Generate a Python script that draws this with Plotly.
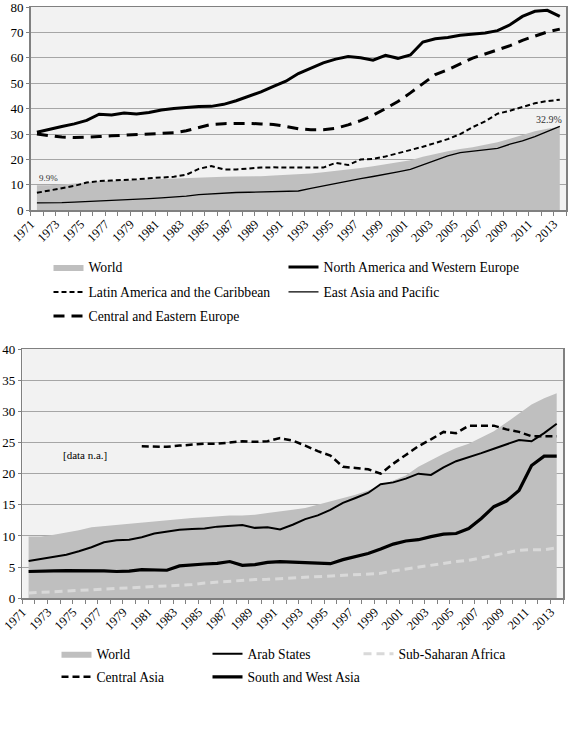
import plotly.graph_objects as go

years = list(range(1971, 2014))

# ---- top panel ----
world = [9.9, 9.9, 10.2, 10.5, 10.9, 11.4, 11.6, 11.8, 12.0, 12.1,
         12.3, 12.5, 12.7, 12.9, 13.0, 13.2, 13.3, 13.3, 13.4, 13.7,
         13.9, 14.2, 14.5, 15.0, 15.5, 16.1, 16.6, 17.3, 18.1, 18.8,
         19.7, 21.1, 22.2, 23.2, 24.1, 24.8, 25.8, 26.8, 28.2, 29.6,
         31.1, 32.1, 32.9]
na_we = [30.7, 32.0, 33.0, 34.0, 35.4, 37.8, 37.5, 38.3, 37.9, 38.5,
         39.5, 40.1, 40.5, 40.8, 40.9, 41.7, 43.1, 44.9, 46.6, 48.8,
         50.8, 53.8, 56.0, 58.0, 59.5, 60.5, 60.0, 59.1, 61.0, 59.8,
         61.1, 66.2, 67.5, 68.0, 68.9, 69.4, 69.8, 70.7, 73.0, 76.3,
         78.3, 78.7, 76.3]
latam = [6.9, 7.7, 8.6, 9.6, 10.9, 11.5, 11.7, 11.9, 12.2, 12.6,
         12.8, 13.2, 14.0, 16.3, 17.4, 16.1, 16.1, 16.5, 16.8, 16.9,
         16.9, 16.8, 16.8, 16.8, 18.7, 17.8, 20.0, 20.2, 21.2, 22.5,
         23.5, 25.0, 26.5, 28.0, 30.0, 32.7, 35.0, 38.0, 39.2, 40.7,
         42.1, 43.0, 43.5]
east_asia = [2.9, 2.9, 3.0, 3.2, 3.4, 3.6, 3.8, 4.0, 4.3, 4.6,
             4.9, 5.2, 5.6, 6.2, 6.5, 6.8, 7.0, 7.1, 7.2, 7.3,
             7.4, 7.6, 8.6, 9.6, 10.6, 11.5, 12.5, 13.3, 14.1, 15.1,
             16.1, 17.8, 19.7, 21.4, 22.7, 23.3, 23.7, 24.4, 26.0, 27.3,
             29.0, 30.9, 33.0]
ce_europe = [30.0, 29.3, 28.8, 28.6, 28.7, 29.0, 29.3, 29.6, 29.9, 30.0,
             30.2, 30.5, 31.3, 32.7, 33.8, 34.1, 34.3, 34.2, 34.0, 33.8,
             33.0, 32.1, 31.7, 31.7, 32.3, 33.6, 35.3, 37.4, 40.0, 42.8,
             46.2, 49.7, 53.4, 55.3, 57.7, 59.9, 61.5, 63.2, 64.8, 66.9,
             68.5, 70.2, 71.3]

# ---- bottom panel ----
arab = [6.0, 6.3, 6.6, 7.0, 7.55, 8.2, 9.0, 9.3, 9.4, 9.8,
        10.4, 10.7, 11.0, 11.1, 11.2, 11.5, 11.65, 11.75, 11.3, 11.4,
        11.05, 11.8, 12.7, 13.3, 14.2, 15.3, 16.1, 16.9, 18.3, 18.6,
        19.2, 20.0, 19.8, 21.0, 22.0, 22.6, 23.3, 24.0, 24.7, 25.4,
        25.2, 26.5, 28.0]
ssa = [0.85, 0.95, 1.05, 1.15, 1.3, 1.35, 1.45, 1.55, 1.65, 1.75,
       1.85, 1.95, 2.05, 2.2, 2.45, 2.6, 2.7, 2.9, 3.0, 3.05,
       3.15, 3.2, 3.35, 3.5, 3.6, 3.7, 3.8, 3.9, 4.0, 4.4,
       4.7, 5.1, 5.4, 5.6, 5.9, 6.1, 6.5, 6.8, 7.2, 7.7,
       7.8, 7.8, 8.1]
central_asia = [None] * 9 + [
    24.4, 24.3, 24.3, 24.5, 24.7, 24.8, 24.8, 25.0, 25.2, 25.1,
    25.2, 25.7, 25.3, 24.5, 23.6, 22.9, 21.1, 20.9, 20.7, 20.0,
    21.6, 23.0, 24.4, 25.5, 26.7, 26.5, 27.7, 27.7, 27.7, 27.1,
    26.7, 26.0, 26.0, 26.0]
sw_asia = [4.3, 4.3, 4.4, 4.45, 4.45, 4.45, 4.4, 4.3, 4.35, 4.6,
           4.6, 4.5, 5.2, 5.4, 5.5, 5.6, 5.9, 5.3, 5.4, 5.75,
           5.9, 5.8, 5.75, 5.65, 5.55, 6.2, 6.65, 7.2, 7.9, 8.7,
           9.2, 9.4, 9.9, 10.3, 10.4, 11.2, 12.8, 14.7, 15.6, 17.3,
           21.3, 22.8, 22.8]

tick_years = years[::2]
tick_text = [str(y) for y in tick_years]

FONT = "Liberation Serif"
W, H = 568, 739
GRID = "#a6a6a6"
AXIS = "#808080"
FILL = "#bfbfbf"

fig = go.Figure()

# top panel traces
fig.add_trace(go.Scatter(x=years, y=world, name="World", mode="lines",
                         line=dict(width=0, color=FILL), fill="tozeroy",
                         fillcolor=FILL, xaxis="x", yaxis="y", legend="legend"))
fig.add_trace(go.Scatter(x=years, y=na_we, name="North America and Western Europe",
                         mode="lines", line=dict(color="black", width=3),
                         xaxis="x", yaxis="y", legend="legend", legendwidth=240))
fig.add_trace(go.Scatter(x=years, y=latam, name="Latin America and the Caribbean",
                         mode="lines", line=dict(color="black", width=2, dash="5px,3px"),
                         xaxis="x", yaxis="y", legend="legend2"))
fig.add_trace(go.Scatter(x=years, y=east_asia, name="East Asia and Pacific",
                         mode="lines", line=dict(color="black", width=1.3),
                         xaxis="x", yaxis="y", legend="legend2", legendwidth=200))
fig.add_trace(go.Scatter(x=years, y=ce_europe, name="Central and Eastern Europe",
                         mode="lines", line=dict(color="black", width=3, dash="11px,7px"),
                         xaxis="x", yaxis="y", legend="legend3", legendwidth=230))

# bottom panel traces
fig.add_trace(go.Scatter(x=years, y=world, name="World", mode="lines",
                         line=dict(width=0, color=FILL), fill="tozeroy",
                         fillcolor=FILL, xaxis="x2", yaxis="y2", legend="legend4"))
fig.add_trace(go.Scatter(x=years, y=arab, name="Arab States", mode="lines",
                         line=dict(color="black", width=2),
                         xaxis="x2", yaxis="y2", legend="legend4"))
fig.add_trace(go.Scatter(x=years, y=ssa, name="Sub-Saharan Africa", mode="lines",
                         line=dict(color="#d9d9d9", width=3, dash="8px,5px"),
                         xaxis="x2", yaxis="y2", legend="legend4", legendwidth=160))
fig.add_trace(go.Scatter(x=years, y=central_asia, name="Central Asia", mode="lines",
                         line=dict(color="black", width=2.5, dash="7px,4px"),
                         connectgaps=False, xaxis="x2", yaxis="y2", legend="legend5"))
fig.add_trace(go.Scatter(x=years, y=sw_asia, name="South and West Asia", mode="lines",
                         line=dict(color="black", width=3.2),
                         xaxis="x2", yaxis="y2", legend="legend5", legendwidth=170))


def xaxis_cfg(domain, anchor):
    return dict(domain=domain, anchor=anchor, automargin=False,
                range=[years[0] - 0.5, years[-1] + 0.5],
                tickmode="array", tickvals=tick_years, ticktext=tick_text,
                tickangle=-45, ticks="", ticklabelshift=-6,
                ticklabeloverflow="allow",
                tickfont=dict(family=FONT, size=12.5, color="black"),
                minor=dict(tick0=years[0] - 0.5, dtick=1, ticks="outside",
                           ticklen=4, tickcolor=AXIS, tickwidth=1, showgrid=False),
                showgrid=False, showline=True, linecolor=AXIS, linewidth=1.5,
                mirror=True, zeroline=False, fixedrange=True)


def yaxis_cfg(domain, anchor, top, step):
    return dict(domain=domain, anchor=anchor, automargin=False,
                range=[0, top], dtick=step, ticklabeloverflow="allow",
                tick0=0, showgrid=True, gridcolor=GRID, gridwidth=1,
                ticks="outside", ticklen=3, tickcolor=AXIS,
                tickfont=dict(family=FONT, size=13, color="black"),
                showline=True, linecolor=AXIS, linewidth=1.5, mirror=True,
                zeroline=False, fixedrange=True)


def legend_cfg(xpx, ypx, entry, size):
    return dict(orientation="h", x=xpx / W, xanchor="left",
                y=1 - ypx / H, yanchor="middle",
                entrywidth=entry, entrywidthmode="pixels",
                bgcolor="rgba(0,0,0,0)", borderwidth=0,
                font=dict(family=FONT, size=size, color="black"),
                itemclick=False, itemdoubleclick=False)


fig.update_layout(
    template="none",
    width=W, height=H,
    margin=dict(l=0, r=0, t=0, b=0, autoexpand=False),
    paper_bgcolor="white", plot_bgcolor="#f2f2f2",
    font=dict(family=FONT, color="black"),
    showlegend=True,
    xaxis=xaxis_cfg([30.7 / W, 566 / W], "y"),
    yaxis=yaxis_cfg([1 - 210.3 / H, 1 - 7 / H], "x", 80, 10),
    xaxis2=xaxis_cfg([22.3 / W, 563 / W], "y2"),
    yaxis2=yaxis_cfg([1 - 598.3 / H, 1 - 349 / H], "x2", 40, 5),
    legend=legend_cfg(48.5, 267, 190, 13.7),
    legend2=legend_cfg(48.5, 292, 190, 13.7),
    legend3=legend_cfg(48.5, 316, 190, 13.7),
    legend4=legend_cfg(56.5, 654, 106, 13.6),
    legend5=legend_cfg(56.5, 677, 106, 13.6),
    annotations=[
        dict(x=years[0] + 0.9, y=world[0] + 2.8, xref="x", yref="y",
             text=f"{world[0]}%", showarrow=False,
             font=dict(family=FONT, size=9, color="#333333")),
        dict(x=years[-1] - 0.9, y=world[-1] + 2.9, xref="x", yref="y",
             text=f"{world[-1]}%", showarrow=False,
             font=dict(family=FONT, size=10, color="#333333")),
        dict(x=years[4] + 0.5, y=23.0, xref="x2", yref="y2",
             text="[data n.a.]", showarrow=False,
             font=dict(family=FONT, size=11, color="black")),
    ],
)

fig.write_html("out.html",
               config={"displayModeBar": False, "staticPlot": True},
               post_script="document.body.style.margin='0';"
                           "document.body.style.padding='0';")
